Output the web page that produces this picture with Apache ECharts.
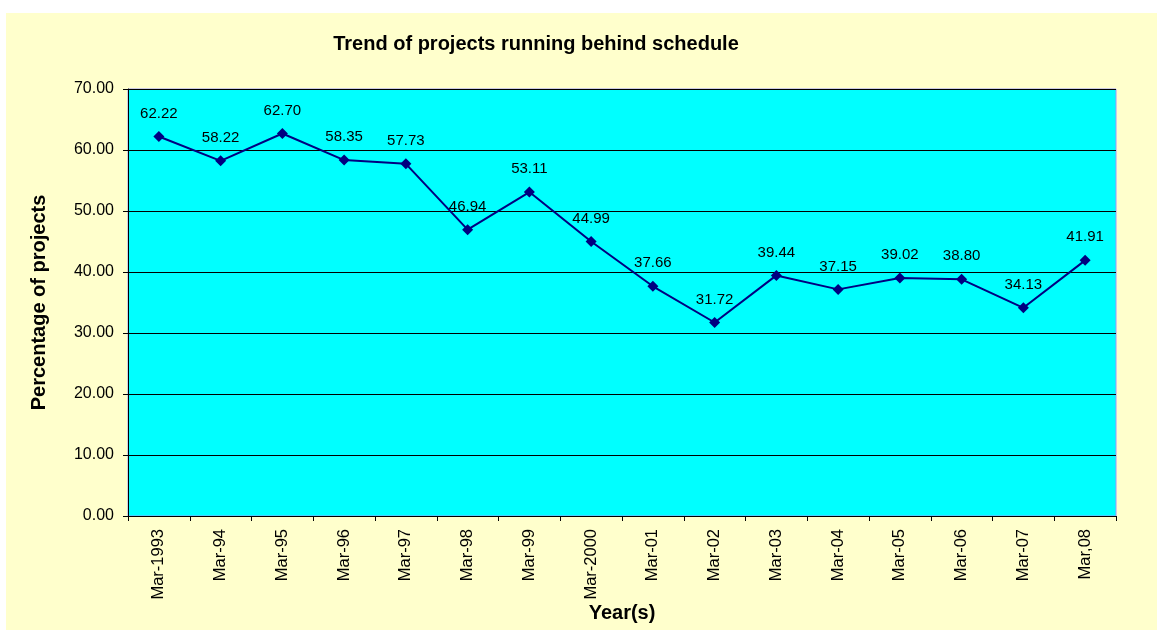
<!DOCTYPE html>
<html>
<head>
<meta charset="utf-8">
<script src="https://cdn.jsdelivr.net/npm/echarts@6/dist/echarts.min.js"></script>
<style>
  html, body { margin: 0; padding: 0; background: #fff; }
  #chart { position: absolute; left: 6px; top: 13px; width: 1151px; height: 617px; }
</style>
</head>
<body>
<div id="chart"></div>
<script>
// categories and values
const years = ['Mar-1993', 'Mar-94', 'Mar-95', 'Mar-96', 'Mar-97', 'Mar-98', 'Mar-99', 'Mar-2000',
  'Mar-01', 'Mar-02', 'Mar-03', 'Mar-04', 'Mar-05', 'Mar-06', 'Mar-07', 'Mar,08']
const behind = [62.22, 58.22, 62.70, 58.35, 57.73, 46.94, 53.11, 44.99,
  37.66, 31.72, 39.44, 37.15, 39.02, 38.80, 34.13, 41.91]

const font = 'Arial, "Liberation Sans", sans-serif'
const chart = echarts.init(document.getElementById('chart'))

let option = {
  backgroundColor: '#ffffcc',
  animation: false,
  textStyle: { fontFamily: font },
  title: {
    text: 'Trend of projects running behind schedule',
    left: 525,
    top: 16,
    textAlign: 'center',
    textStyle: { fontSize: 20, fontWeight: 'bold', color: '#000', fontFamily: font }
  },
  grid: {
    left: 122,
    top: 76,
    right: 41,
    bottom: 114,
    outerBoundsMode: 'none',
    containLabel: false,
    show: true,
    backgroundColor: '#00ffff',
    borderColor: '#9999ff',
    borderWidth: 1
  },
  xAxis: {
    type: 'category',
    data: years,
    boundaryGap: true,
    name: 'Year(s)',
    nameLocation: 'middle',
    nameGap: 87,
    nameMoveOverlap: false,
    nameTextStyle: { fontSize: 20, fontWeight: 'bold', color: '#000', fontFamily: font },
    axisLine: { lineStyle: { color: '#000', width: 1 } },
    axisTick: { show: true, length: 5, alignWithLabel: false, lineStyle: { color: '#000' } },
    axisLabel: { rotate: 90, fontSize: 16.5, color: '#000', margin: 13, interval: 0, fontFamily: font }
  },
  yAxis: {
    type: 'value',
    min: 0,
    max: 70,
    interval: 10,
    name: 'Percentage of projects',
    nameLocation: 'middle',
    nameGap: 79,
    nameMoveOverlap: false,
    nameTextStyle: { fontSize: 20, fontWeight: 'bold', color: '#000', fontFamily: font },
    axisLine: { show: true, lineStyle: { color: '#000', width: 1 } },
    axisTick: { show: true, length: 5, lineStyle: { color: '#000' } },
    axisLabel: {
      fontSize: 16,
      color: '#000',
      margin: 14,
      fontFamily: font,
      formatter: v => v.toFixed(2)
    },
    splitLine: { show: true, lineStyle: { color: '#000', width: 1 } }
  },
  series: [
    {
      type: 'line',
      data: behind,
      symbol: 'diamond',
      symbolSize: 11,
      lineStyle: { color: '#000080', width: 2 },
      itemStyle: { color: '#000080' },
      label: {
        show: true,
        position: 'top',
        distance: 10,
        fontSize: 15,
        color: '#000',
        fontFamily: font,
        formatter: p => p.value.toFixed(2)
      }
    }
  ]
}
chart.setOption(option)
</script>
</body>
</html>
